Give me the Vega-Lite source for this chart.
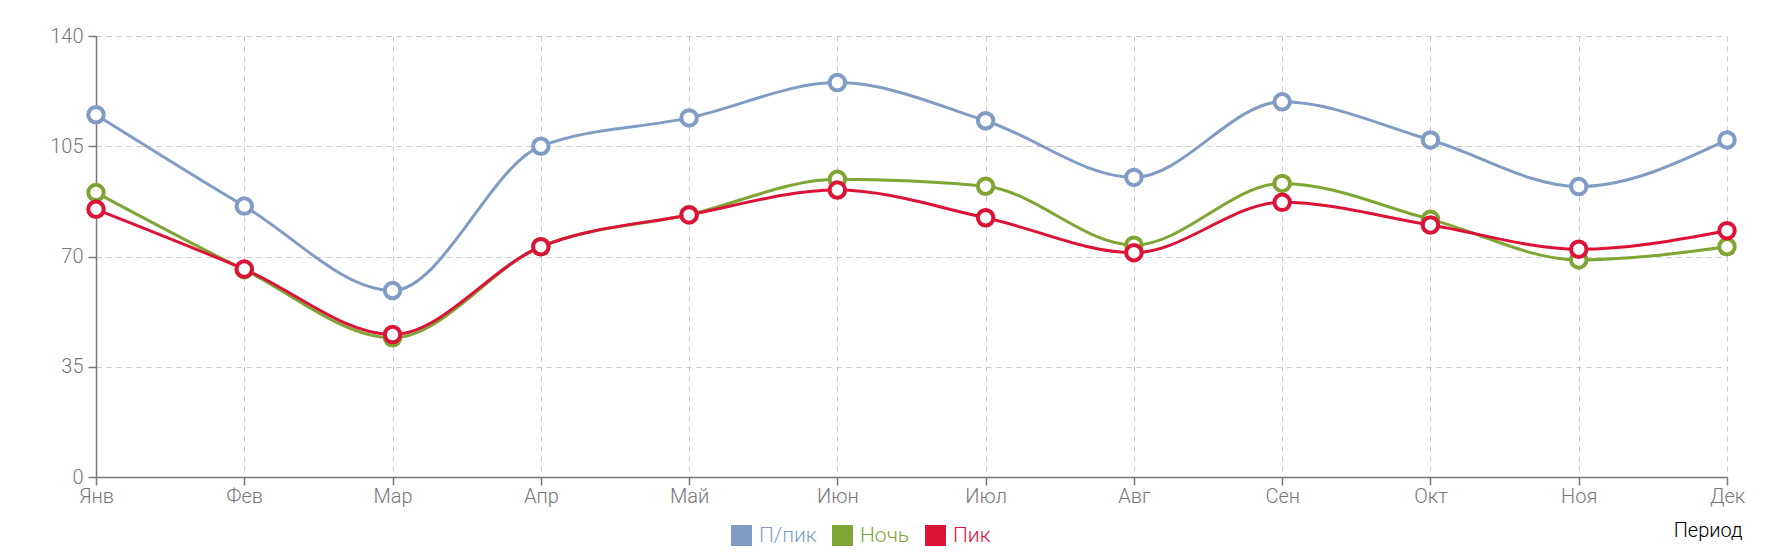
{
  "$schema": "https://vega.github.io/schema/vega-lite/v6.json",
  "width": 1631,
  "height": 441,
  "autosize": {"type": "none"},
  "padding": {"left": 96, "top": 36, "right": 63, "bottom": 81},
  "data": {
    "values": [
      {"month": "Янв", "series": "П/пик", "value": 115},
      {"month": "Фев", "series": "П/пик", "value": 86},
      {"month": "Мар", "series": "П/пик", "value": 59.2},
      {"month": "Апр", "series": "П/пик", "value": 105},
      {"month": "Май", "series": "П/пик", "value": 114},
      {"month": "Июн", "series": "П/пик", "value": 125.2},
      {"month": "Июл", "series": "П/пик", "value": 113.1},
      {"month": "Авг", "series": "П/пик", "value": 95.1},
      {"month": "Сен", "series": "П/пик", "value": 119.1},
      {"month": "Окт", "series": "П/пик", "value": 107},
      {"month": "Ноя", "series": "П/пик", "value": 92.2},
      {"month": "Дек", "series": "П/пик", "value": 107},
      {"month": "Янв", "series": "Ночь", "value": 90.3},
      {"month": "Фев", "series": "Ночь", "value": 65.8},
      {"month": "Мар", "series": "Ночь", "value": 44.2},
      {"month": "Апр", "series": "Ночь", "value": 73.1},
      {"month": "Май", "series": "Ночь", "value": 83.3},
      {"month": "Июн", "series": "Ночь", "value": 94.5},
      {"month": "Июл", "series": "Ночь", "value": 92.3},
      {"month": "Авг", "series": "Ночь", "value": 73.6},
      {"month": "Сен", "series": "Ночь", "value": 93.2},
      {"month": "Окт", "series": "Ночь", "value": 81.8},
      {"month": "Ноя", "series": "Ночь", "value": 68.9},
      {"month": "Дек", "series": "Ночь", "value": 73.1},
      {"month": "Янв", "series": "Пик", "value": 85},
      {"month": "Фев", "series": "Пик", "value": 66},
      {"month": "Мар", "series": "Пик", "value": 45.2},
      {"month": "Апр", "series": "Пик", "value": 73.1},
      {"month": "Май", "series": "Пик", "value": 83.2},
      {"month": "Июн", "series": "Пик", "value": 91.1},
      {"month": "Июл", "series": "Пик", "value": 82.3},
      {"month": "Авг", "series": "Пик", "value": 71.2},
      {"month": "Сен", "series": "Пик", "value": 87.2},
      {"month": "Окт", "series": "Пик", "value": 80},
      {"month": "Ноя", "series": "Пик", "value": 72.3},
      {"month": "Дек", "series": "Пик", "value": 78.2}
    ]
  },
  "encoding": {
    "x": {
      "field": "month",
      "type": "ordinal",
      "sort": ["Янв", "Фев", "Мар", "Апр", "Май", "Июн", "Июл", "Авг", "Сен", "Окт", "Ноя", "Дек"],
      "scale": {"type": "point", "padding": 0},
      "axis": {
        "grid": true,
        "labelAngle": 0,
        "labelPadding": 1,
        "title": "Период",
        "titleAnchor": "end",
        "titleAlign": "right",
        "titleX": 1646,
        "titleY": 53,
        "titleBaseline": "middle",
        "titleFontWeight": 300
      }
    },
    "y": {
      "field": "value",
      "type": "quantitative",
      "scale": {"domain": [0, 140], "nice": false},
      "axis": {"values": [0, 35, 70, 105, 140], "title": null, "labelPadding": 5}
    },
    "color": {
      "field": "series",
      "type": "nominal",
      "scale": {"domain": ["П/пик", "Ночь", "Пик"], "range": ["#809cc4", "#7fa535", "#dc1237"]},
      "legend": {
        "orient": "none",
        "legendX": 635,
        "legendY": 489,
        "direction": "horizontal",
        "title": null,
        "symbolType": "square",
        "symbolSize": 441,
        "symbolStrokeWidth": 0,
        "labelFont": "Roboto",
        "labelFontWeight": 300,
        "labelFontSize": 21,
        "labelOffset": 7,
        "columnPadding": 15,
        "encode": {
          "labels": {"update": {"fill": {"scale": "color", "field": "value"}}},
          "symbols": {"update": {"fill": {"scale": "color", "field": "value"}, "stroke": {"value": "transparent"}, "opacity": {"value": 1}}}
        }
      }
    }
  },
  "layer": [
    {"mark": {"type": "line", "interpolate": "monotone", "strokeWidth": 3}},
    {"mark": {"type": "point", "shape": "circle", "filled": false, "fill": "white", "size": 240, "strokeWidth": 4, "opacity": 1}}
  ],
  "config": {
    "view": {"stroke": null},
    "axis": {
      "labelFont": "Roboto",
      "labelFontWeight": 300,
      "labelFontSize": 20,
      "labelColor": "#777777",
      "domainColor": "#777777",
      "tickColor": "#777777",
      "domainWidth": 1.5,
      "tickWidth": 1.5,
      "tickSize": 8,
      "gridColor": "#c8c8c8",
      "gridDash": [5, 5],
      "gridWidth": 1,
      "titleFont": "Roboto",
      "titleFontWeight": 300,
      "titleFontSize": 20,
      "titleColor": "#000000"
    }
  }
}
